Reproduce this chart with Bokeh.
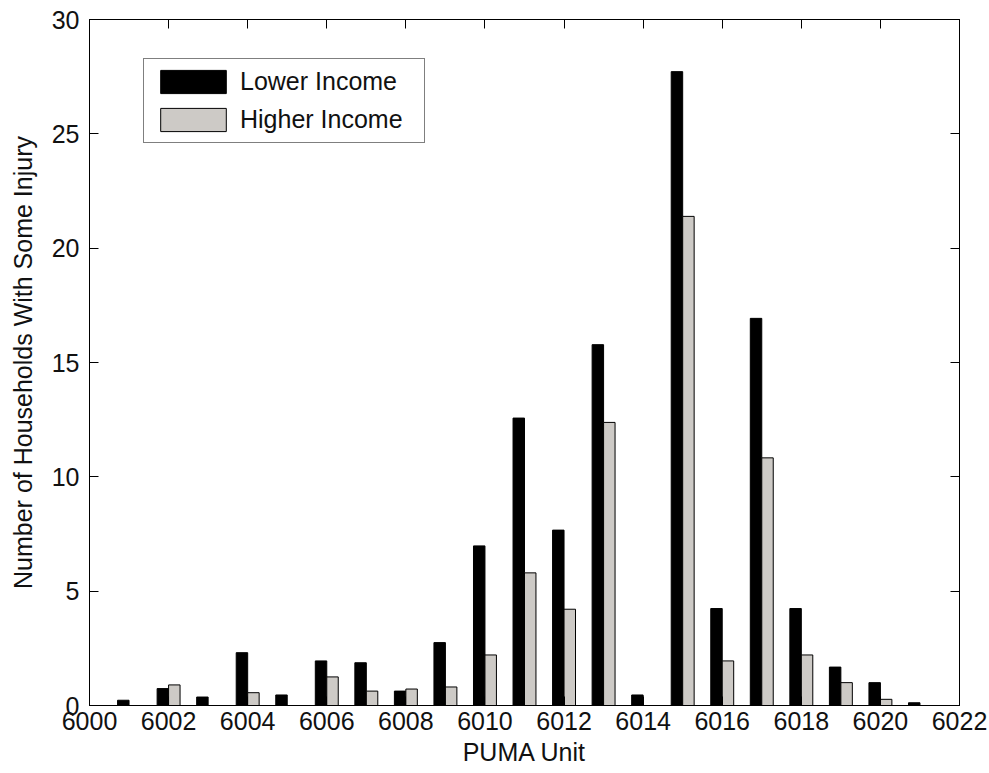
from bokeh.plotting import figure
from bokeh.models import ColumnDataSource, Range1d, LinearAxis, FixedTicker, Legend, LegendItem
from bokeh.transform import dodge
from bokeh.embed import file_html
from bokeh.resources import INLINE

puma = list(range(6001, 6022))
lower_income = [0.23, 0.74, 0.37, 2.31, 0.46, 1.95, 1.87, 0.63, 2.75, 6.98, 12.57,
                7.67, 15.78, 0.46, 27.72, 4.24, 16.93, 4.24, 1.68, 1.00, 0.12]
higher_income = [0.0, 0.90, 0.0, 0.56, 0.0, 1.25, 0.63, 0.72, 0.81, 2.21, 5.80,
                 4.21, 12.38, 0.0, 21.39, 1.95, 10.83, 2.21, 1.00, 0.27, 0.0]
x_ticks = list(range(6000, 6023, 2))
y_ticks = [0, 5, 10, 15, 20, 25, 30]

FONT = "Liberation Sans"
GREY = "#cdcac6"

src = ColumnDataSource(dict(puma=puma, lower=lower_income, higher=higher_income))

p = figure(width=989, height=773, output_backend="svg", toolbar_location=None,
           x_range=Range1d(6000, 6022), y_range=Range1d(0, 30),
           min_border_left=89, min_border_right=30, min_border_top=19, min_border_bottom=68)
p.background_fill_color = "white"
p.border_fill_color = "white"
p.outline_line_color = "black"
p.outline_line_width = 1
p.xgrid.visible = False
p.ygrid.visible = False

w = 0.29
r1 = p.vbar(x=dodge("puma", -0.145), top="lower", width=w, source=src,
            fill_color="black", line_color="black", line_width=1)
r2 = p.vbar(x=dodge("puma", 0.145), top="higher", width=w, source=src,
            fill_color=GREY, line_color="black", line_width=1)

def style_axis(ax, ticks, labels=True):
    ax.ticker = FixedTicker(ticks=ticks)
    ax.minor_tick_line_color = None
    ax.major_tick_in = 9
    ax.major_tick_out = 0
    ax.major_tick_line_color = "black"
    ax.axis_line_color = "black"
    ax.major_label_text_font = FONT
    ax.major_label_text_font_size = "25px"
    ax.major_label_text_color = "#111111"
    ax.axis_label_text_font = FONT
    ax.axis_label_text_font_size = "25px"
    ax.axis_label_text_font_style = "normal"
    ax.axis_label_text_color = "#111111"
    if not labels:
        ax.major_label_text_color = None
        ax.major_label_text_font_size = "1px"
        ax.major_label_standoff = 0

style_axis(p.xaxis[0], x_ticks)
style_axis(p.yaxis[0], y_ticks)
p.xaxis[0].axis_label = "PUMA Unit"
p.yaxis[0].axis_label = "Number of Households With Some Injury"
p.xaxis[0].major_label_standoff = 6
p.xaxis[0].axis_label_standoff = 5
p.yaxis[0].major_label_standoff = 10
p.yaxis[0].axis_label_standoff = 12

top_ax = LinearAxis()
right_ax = LinearAxis()
style_axis(top_ax, x_ticks, labels=False)
style_axis(right_ax, y_ticks, labels=False)
p.add_layout(top_ax, "above")
p.add_layout(right_ax, "right")

legend = Legend(items=[LegendItem(label="Lower Income", renderers=[r1]),
                       LegendItem(label="Higher Income", renderers=[r2])],
                location=(54, 562))
legend.label_text_font = FONT
legend.label_text_font_size = "25px"
legend.label_text_color = "#111111"
legend.glyph_width = 82
legend.glyph_height = 29
legend.label_height = 29
legend.label_width = 176
legend.label_standoff = 6
legend.spacing = 9
legend.padding = 8
legend.margin = 0
legend.border_line_color = "black"
legend.border_line_width = 1
legend.background_fill_color = "white"
legend.background_fill_alpha = 1
p.add_layout(legend)

open("out.html", "w").write(file_html(p, INLINE))
